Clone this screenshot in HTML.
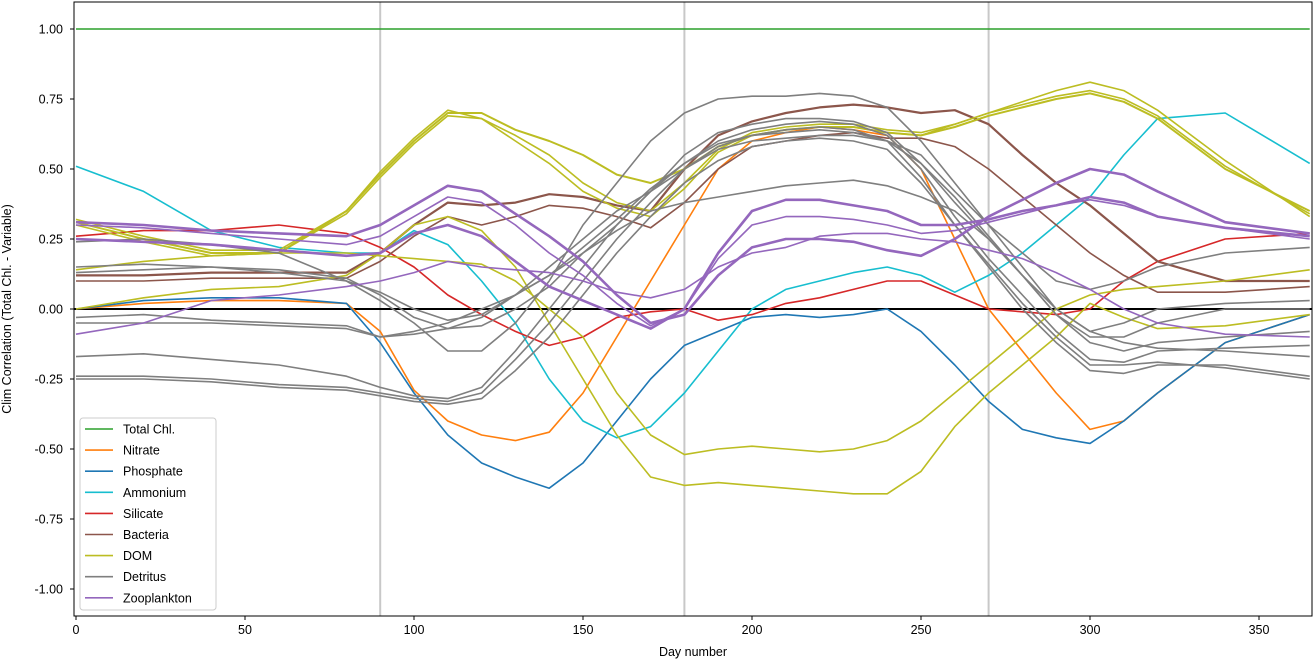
<!DOCTYPE html>
<html><head><meta charset="utf-8"><style>
body{margin:0;background:#fff;}
svg{display:block;font-family:"Liberation Sans","DejaVu Sans",sans-serif;}
</style></head><body>
<svg id="chart" width="1314" height="660"></svg>
<script>
const days=[0,20,40,60,80,90,100,110,120,130,140,150,160,170,180,190,200,210,220,230,240,250,260,270,280,290,300,310,320,340,365];
const totalChl=[1,1,1,1,1,1,1,1,1,1,1,1,1,1,1,1,1,1,1,1,1,1,1,1,1,1,1,1,1,1,1];
const nitrate=[0.0,0.02,0.03,0.03,0.02,-0.08,-0.29,-0.4,-0.45,-0.47,-0.44,-0.3,-0.1,0.1,0.3,0.5,0.6,0.63,0.65,0.64,0.62,0.5,0.25,0.0,-0.15,-0.3,-0.43,-0.4,-0.3,-0.12,-0.02];
const phosphate=[0.0,0.03,0.04,0.04,0.02,-0.12,-0.3,-0.45,-0.55,-0.6,-0.64,-0.55,-0.4,-0.25,-0.13,-0.08,-0.03,-0.02,-0.03,-0.02,0.0,-0.08,-0.2,-0.33,-0.43,-0.46,-0.48,-0.4,-0.3,-0.12,-0.02];
const ammonium=[0.51,0.42,0.28,0.22,0.2,0.2,0.28,0.23,0.1,-0.05,-0.25,-0.4,-0.46,-0.42,-0.3,-0.15,0.0,0.07,0.1,0.13,0.15,0.12,0.06,0.12,0.2,0.3,0.4,0.55,0.68,0.7,0.52];
const silicate=[0.26,0.28,0.28,0.3,0.27,0.22,0.15,0.05,-0.02,-0.08,-0.13,-0.1,-0.03,-0.01,0.0,-0.04,-0.02,0.02,0.04,0.07,0.1,0.1,0.05,0.0,-0.01,-0.02,0.0,0.1,0.17,0.25,0.27];
const bacteria1=[0.12,0.12,0.13,0.13,0.13,0.2,0.3,0.38,0.37,0.38,0.41,0.4,0.37,0.35,0.5,0.62,0.67,0.7,0.72,0.73,0.72,0.7,0.71,0.66,0.55,0.45,0.37,0.27,0.17,0.1,0.1];
const bacteria2=[0.1,0.1,0.11,0.11,0.11,0.17,0.26,0.33,0.3,0.33,0.37,0.36,0.33,0.29,0.38,0.5,0.58,0.6,0.62,0.63,0.61,0.61,0.58,0.5,0.4,0.3,0.2,0.12,0.06,0.06,0.08];
const domA1=[0.31,0.25,0.2,0.2,0.35,0.48,0.6,0.7,0.7,0.64,0.6,0.55,0.48,0.45,0.5,0.58,0.62,0.64,0.65,0.65,0.63,0.62,0.65,0.69,0.72,0.75,0.77,0.74,0.68,0.5,0.35];
const domA2=[0.3,0.24,0.19,0.2,0.34,0.47,0.59,0.69,0.68,0.62,0.55,0.45,0.38,0.35,0.45,0.57,0.63,0.65,0.66,0.66,0.64,0.63,0.66,0.7,0.73,0.76,0.78,0.75,0.69,0.51,0.34];
const domA3=[0.32,0.26,0.21,0.21,0.35,0.49,0.61,0.71,0.68,0.6,0.52,0.42,0.36,0.33,0.43,0.56,0.62,0.64,0.65,0.65,0.63,0.62,0.66,0.7,0.74,0.78,0.81,0.78,0.71,0.53,0.33];
const domC=[0.0,0.04,0.07,0.08,0.12,0.2,0.3,0.33,0.28,0.15,-0.05,-0.25,-0.45,-0.6,-0.63,-0.62,-0.63,-0.64,-0.65,-0.66,-0.66,-0.58,-0.42,-0.3,-0.2,-0.1,0.02,-0.03,-0.07,-0.06,-0.02];
const domD=[0.14,0.17,0.19,0.2,0.2,0.19,0.18,0.17,0.16,0.1,0.0,-0.1,-0.3,-0.45,-0.52,-0.5,-0.49,-0.5,-0.51,-0.5,-0.47,-0.4,-0.3,-0.2,-0.1,0.0,0.05,0.07,0.08,0.1,0.14];
const det1=[0.24,0.25,0.23,0.2,0.1,0.03,-0.05,-0.15,-0.15,-0.05,0.1,0.3,0.45,0.6,0.7,0.75,0.76,0.76,0.77,0.76,0.72,0.6,0.45,0.3,0.15,0.0,-0.08,-0.05,0.0,0.02,0.03];
const det2=[0.13,0.14,0.15,0.14,0.11,0.05,-0.03,-0.07,-0.06,0.0,0.08,0.2,0.3,0.42,0.55,0.63,0.66,0.68,0.68,0.67,0.63,0.52,0.38,0.25,0.12,-0.02,-0.1,-0.1,-0.05,0.0,0.0];
const det3=[0.15,0.16,0.15,0.13,0.1,0.06,0.0,-0.04,-0.02,0.05,0.12,0.22,0.32,0.43,0.52,0.59,0.62,0.63,0.64,0.63,0.6,0.55,0.42,0.3,0.2,0.1,0.07,0.1,0.15,0.2,0.22];
const det4=[-0.03,-0.02,-0.04,-0.05,-0.06,-0.1,-0.08,-0.05,0.0,0.05,0.12,0.2,0.28,0.35,0.38,0.4,0.42,0.44,0.45,0.46,0.44,0.4,0.35,0.25,0.12,0.0,-0.08,-0.12,-0.14,-0.15,-0.17];
const det5=[-0.05,-0.05,-0.05,-0.06,-0.07,-0.1,-0.09,-0.07,-0.03,0.05,0.15,0.25,0.35,0.42,0.5,0.57,0.6,0.61,0.62,0.62,0.6,0.52,0.4,0.26,0.12,-0.02,-0.12,-0.15,-0.12,-0.1,-0.08];
const det6=[-0.17,-0.16,-0.18,-0.2,-0.24,-0.28,-0.31,-0.32,-0.28,-0.15,0.0,0.15,0.3,0.42,0.52,0.6,0.64,0.66,0.67,0.66,0.62,0.5,0.33,0.18,0.05,-0.08,-0.18,-0.19,-0.15,-0.14,-0.13];
const det7=[-0.24,-0.24,-0.25,-0.27,-0.28,-0.3,-0.32,-0.33,-0.3,-0.18,-0.05,0.1,0.25,0.38,0.5,0.58,0.62,0.64,0.65,0.64,0.6,0.47,0.3,0.15,0.0,-0.12,-0.22,-0.23,-0.2,-0.2,-0.24];
const det8=[-0.25,-0.25,-0.26,-0.28,-0.29,-0.31,-0.33,-0.34,-0.32,-0.22,-0.1,0.05,0.2,0.33,0.45,0.53,0.58,0.6,0.61,0.6,0.57,0.45,0.3,0.16,0.02,-0.1,-0.2,-0.2,-0.19,-0.21,-0.25];
const zoo1=[0.31,0.3,0.28,0.27,0.26,0.3,0.37,0.44,0.42,0.34,0.26,0.17,0.05,-0.05,-0.02,0.12,0.22,0.25,0.25,0.24,0.21,0.19,0.25,0.33,0.39,0.45,0.5,0.48,0.42,0.31,0.27];
const zoo2=[0.25,0.24,0.23,0.21,0.19,0.2,0.27,0.3,0.26,0.17,0.08,0.03,-0.02,-0.07,0.0,0.2,0.35,0.39,0.39,0.37,0.35,0.3,0.3,0.32,0.35,0.37,0.4,0.38,0.33,0.29,0.26];
const zoo3=[-0.09,-0.05,0.03,0.05,0.08,0.1,0.13,0.17,0.15,0.14,0.13,0.1,0.06,0.04,0.07,0.15,0.2,0.22,0.26,0.27,0.27,0.25,0.24,0.21,0.18,0.13,0.07,0.0,-0.05,-0.09,-0.1];
const zoo4=[0.3,0.29,0.27,0.25,0.23,0.26,0.33,0.4,0.38,0.3,0.2,0.12,0.02,-0.06,0.0,0.18,0.3,0.33,0.33,0.32,0.3,0.27,0.28,0.31,0.34,0.37,0.39,0.37,0.33,0.29,0.25];
const xTicks=[0,50,100,150,200,250,300,350];
const yTicks=[1.0,0.75,0.5,0.25,0.0,-0.25,-0.5,-0.75,-1.0];
const seasonDays=[90,180,270];
const legendLabels=["Total Chl.","Nitrate","Phosphate","Ammonium","Silicate","Bacteria","DOM","Detritus","Zooplankton"];
const legendColors=["#2ca02c","#ff7f0e","#1f77b4","#17becf","#d62728","#8c564b","#bcbd22","#7f7f7f","#9467bd"];

const L=74,R=1312,T=2,B=616;
const xs=d=>76+d*3.38;
const ys=v=>309-v*280;
const NS="http://www.w3.org/2000/svg";
const svg=document.getElementById('chart');
function mk(tag,attrs,parent){const e=document.createElementNS(NS,tag);for(const k in attrs)e.setAttribute(k,attrs[k]);(parent||svg).appendChild(e);return e;}

const clip=mk('clipPath',{id:'pc'});mk('rect',{x:L,y:T,width:R-L,height:B-T},clip);
const plot=mk('g',{'clip-path':'url(#pc)'});



seasonDays.forEach(d=>{
  const l=mk('line',{x1:xs(d),x2:xs(d),y1:T,y2:B,stroke:'#c8c8c8','stroke-width':2},plot);
  
  
});
const z=mk('line',{x1:L,x2:R,y1:ys(0),y2:ys(0),stroke:'#000','stroke-width':2},plot);



function series(vals,color,name,w){
  const p=mk('polyline',{points:vals.map((v,i)=>xs(days[i])+','+ys(v)).join(' '),fill:'none',stroke:color,'stroke-width':w||1.6,'stroke-linejoin':'round'},plot);
  
  
}
series(totalChl,'#2ca02c','total-chl-line');
series(nitrate,'#ff7f0e','nitrate-line');
series(phosphate,'#1f77b4','phosphate-line');
series(ammonium,'#17becf','ammonium-line');
series(silicate,'#d62728','silicate-line');
series(bacteria1,'#8c564b','bacteria-line-1',2.2);
series(bacteria2,'#8c564b','bacteria-line-2');
series(domA1,'#bcbd22','dom-line-1',2);
series(domA2,'#bcbd22','dom-line-2');
series(domA3,'#bcbd22','dom-line-3');
series(domC,'#bcbd22','dom-line-4');
series(domD,'#bcbd22','dom-line-5');
[det1,det2,det3,det4,det5,det6,det7,det8].forEach((s,i)=>series(s,'#7f7f7f','detritus-line-'+(i+1)));
series(zoo1,'#9467bd','zooplankton-line-1',2.6);
series(zoo2,'#9467bd','zooplankton-line-2',2.6);
series(zoo3,'#9467bd','zooplankton-line-3');
series(zoo4,'#9467bd','zooplankton-line-4');

const fr=mk('rect',{x:L,y:T,width:R-L,height:B-T,fill:'none',stroke:'#000','stroke-width':1});



xTicks.forEach(t=>{
  mk('line',{x1:xs(t),x2:xs(t),y1:B,y2:B+4,stroke:'#000'});
  const tx=mk('text',{x:xs(t),y:B+18,'font-size':12.5,'text-anchor':'middle'});tx.textContent=t;
  
  
});
yTicks.forEach(t=>{
  mk('line',{x1:L-4,x2:L,y1:ys(t),y2:ys(t),stroke:'#000'});
  const tx=mk('text',{x:L-11,y:ys(t)+4.5,'font-size':12.5,'text-anchor':'end'});tx.textContent=t.toFixed(2);
  
  
});
const xl=mk('text',{x:693,y:656,'font-size':12.5,'text-anchor':'middle'});xl.textContent='Day number';


const yl=mk('text',{x:11,y:309,'font-size':12.5,'text-anchor':'middle',transform:'rotate(-90 11 309)'});yl.textContent='Clim Correlation (Total Chl. - Variable)';



const lg=mk('g',{});


mk('rect',{x:80,y:418,width:136,height:192,fill:'#fff','fill-opacity':0.8,stroke:'#ccc',rx:3},lg);
legendLabels.forEach((lab,i)=>{
  const y=429+i*21.1;
  const g=mk('g',{},lg);
  
  
  mk('line',{x1:85,x2:113,y1:y,y2:y,stroke:legendColors[i],'stroke-width':1.6},g);
  const t=mk('text',{x:123,y:y+4.5,'font-size':12.5},g);t.textContent=lab;
});
</script>
</body></html>
